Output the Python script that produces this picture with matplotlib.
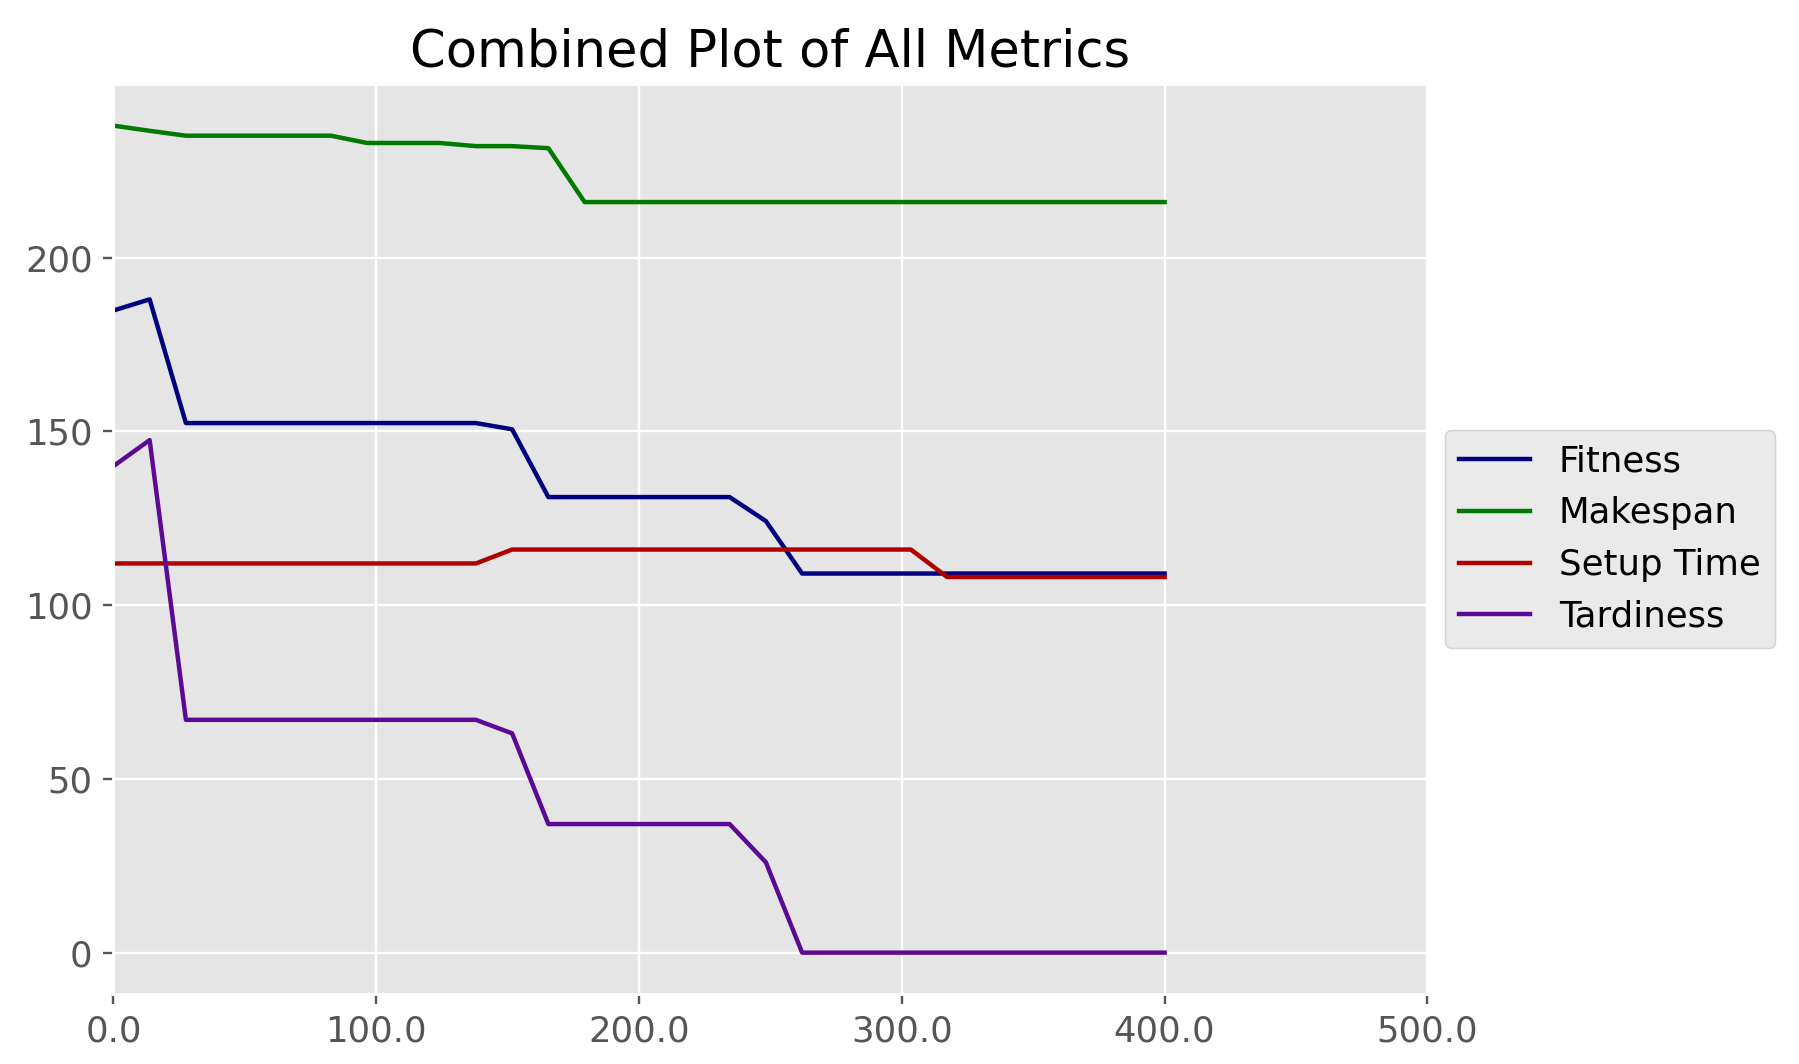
import numpy as np
import matplotlib
matplotlib.use("Agg")
import matplotlib.pyplot as plt
from matplotlib.ticker import FormatStrFormatter

plt.style.use("ggplot")
plt.rcParams["font.size"] = 12

# x positions of the 30 recorded generations (0 .. 400)
generations = np.linspace(0, 400, 30)

fitness = [184.8, 188.0] + [152.4] * 9 + [150.6] + [131.1] * 6 + [124.2] + [109.1] * 11
makespan = [238.0, 236.5] + [235.1] * 5 + [233.0] * 3 + [232.1] * 2 + [231.5] + [216.0] * 17
setup_time = [112.0] * 11 + [116.0] * 12 + [108.1] * 7
tardiness = [140.0, 147.5] + [67.0] * 9 + [63.1] + [37.0] * 6 + [26.0] + [0.0] * 11

series_names = ["Fitness", "Makespan", "Setup Time", "Tardiness"]
series_values = [fitness, makespan, setup_time, tardiness]
series_colors = ["#000080", "#007a00", "#b00000", "#5c0a94"]

xticks = [0, 100, 200, 300, 400, 500]
yticks = [0, 50, 100, 150, 200]

DPI = 213
fig = plt.figure(figsize=(1800 / DPI, 1064 / DPI), dpi=DPI)
ax = fig.add_axes([0.063, 0.0658, 0.730, 0.855])

for name, vals, col in zip(series_names, series_values, series_colors):
    ax.plot(generations, vals, color=col, linewidth=1.5, label=name)

ax.set_xlim(0, 500)
ax.set_xticks(xticks)
ax.xaxis.set_major_formatter(FormatStrFormatter("%.1f"))
ax.set_yticks(yticks)
ax.set_title("Combined Plot of All Metrics", color="black")
ax.legend(loc="center left", bbox_to_anchor=(1, 0.5))

fig.savefig("out.png", dpi=DPI)
